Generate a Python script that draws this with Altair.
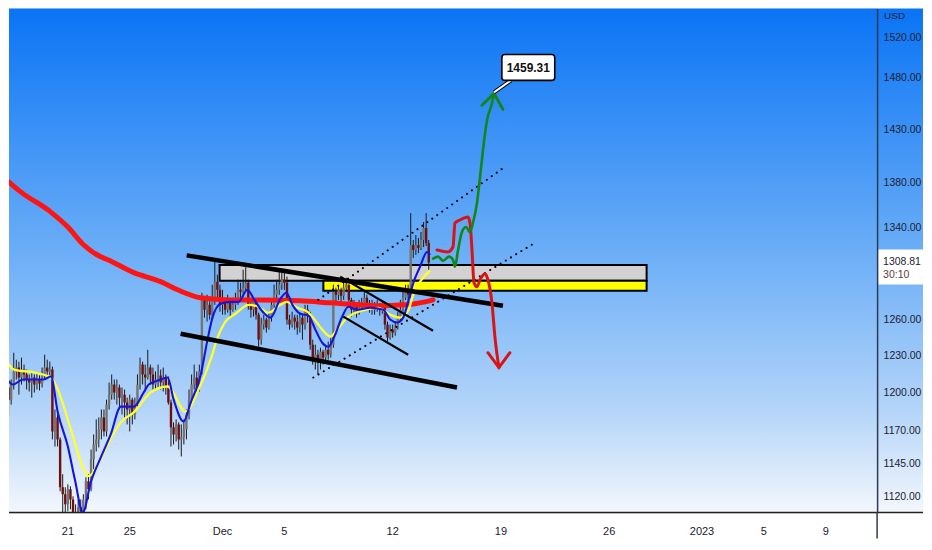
import altair as alt
import pandas as pd

# ---------------- data ----------------
BASE = pd.Timestamp("2022-11-21 00:00")
CANDLE_START = "2022-11-16 16:00"   # 4h candles
FIRST_OPEN = 1218.8

CLOSE = [1212.3, 1217.2, 1204.3, 1194.6, 1206.7, 1217.2, 1220.4, 1212.3, 1218.8, 1214.8,
         1210.7, 1208.3, 1212.3, 1206.7, 1210.7, 1207.5, 1213.2, 1220.4, 1217.2, 1218.8,
         1169.6, 1180.6, 1163.4, 1127.0, 1121.7, 1114.2, 1125.4, 1117.9, 1106.9, 1103.9,
         1112.0, 1109.1, 1117.9, 1131.5, 1125.4, 1148.1, 1159.5, 1163.4, 1171.2, 1180.6,
         1169.6, 1190.7, 1198.6, 1206.7, 1200.3, 1204.3, 1196.2, 1198.6, 1192.3, 1186.8,
         1194.6, 1182.9, 1190.7, 1206.7, 1222.8, 1214.8, 1212.3, 1220.4, 1214.8, 1206.7,
         1210.7, 1214.0, 1208.3, 1212.3, 1204.3, 1192.3, 1172.8, 1167.3, 1175.1, 1163.4,
         1165.0, 1171.2, 1182.9, 1194.6, 1206.7, 1212.3, 1204.3, 1217.2, 1276.6, 1268.3,
         1272.4, 1264.1, 1276.6, 1292.2, 1285.2, 1272.4, 1276.6, 1268.3, 1274.1, 1268.3,
         1272.4, 1276.6, 1285.2, 1283.5, 1287.0, 1291.3, 1272.4, 1268.3, 1274.9, 1264.1,
         1243.3, 1255.8, 1260.0, 1253.3, 1261.6, 1272.4, 1281.0, 1285.2, 1289.6, 1293.9,
         1291.3, 1260.0, 1255.8, 1261.6, 1258.3, 1253.3, 1261.6, 1255.8, 1268.3, 1264.1,
         1239.1, 1226.8, 1230.9, 1225.2, 1233.3, 1228.5, 1234.9, 1230.9, 1239.1, 1283.5,
         1281.0, 1285.2, 1280.1, 1287.0, 1289.6, 1276.6, 1268.3, 1272.4, 1266.6, 1269.9,
         1274.1, 1278.4, 1274.1, 1269.9, 1272.4, 1268.3, 1271.6, 1268.3, 1269.9, 1255.8,
         1244.9, 1251.6, 1249.1, 1253.3, 1261.6, 1268.3, 1278.4, 1283.5, 1281.0, 1324.1,
         1319.7, 1324.1, 1321.5, 1328.5, 1339.2, 1325.8, 1308.81]

HIGH = [1222.8, 1225.2, 1218.8, 1210.7, 1210.7, 1232.5, 1226.8, 1225.2, 1228.5, 1222.8,
        1218.8, 1214.8, 1217.2, 1214.8, 1215.6, 1214.0, 1220.4, 1230.9, 1226.8, 1225.2,
        1221.2, 1186.8, 1182.9, 1165.0, 1136.8, 1127.0, 1129.2, 1127.7, 1120.2, 1114.2,
        1117.9, 1117.9, 1121.7, 1134.5, 1136.8, 1155.6, 1167.3, 1179.0, 1180.6, 1186.8,
        1186.8, 1194.6, 1208.3, 1214.8, 1210.7, 1210.7, 1206.7, 1204.3, 1202.7, 1196.2,
        1198.6, 1196.2, 1196.2, 1214.8, 1228.5, 1225.2, 1222.8, 1234.9, 1222.8, 1220.4,
        1217.2, 1222.8, 1218.8, 1220.4, 1214.8, 1213.2, 1194.6, 1176.7, 1179.0, 1176.7,
        1175.1, 1179.0, 1186.8, 1202.7, 1214.8, 1222.8, 1217.2, 1222.8, 1282.7, 1278.4,
        1281.0, 1276.6, 1289.6, 1309.4, 1298.2, 1289.6, 1285.2, 1278.4, 1281.0, 1276.6,
        1278.4, 1282.7, 1293.9, 1291.3, 1302.5, 1305.1, 1293.9, 1276.6, 1278.4, 1276.6,
        1265.8, 1261.6, 1264.1, 1261.6, 1266.6, 1276.6, 1289.6, 1293.9, 1300.8, 1300.8,
        1299.9, 1296.5, 1264.1, 1266.6, 1264.1, 1264.1, 1265.8, 1264.1, 1272.4, 1272.4,
        1266.6, 1243.3, 1239.1, 1234.9, 1236.6, 1234.9, 1239.1, 1241.6, 1244.9, 1289.6,
        1287.0, 1289.6, 1287.0, 1291.3, 1295.6, 1289.6, 1278.4, 1276.6, 1274.1, 1276.6,
        1278.4, 1283.5, 1281.0, 1276.6, 1276.6, 1274.9, 1276.6, 1274.1, 1274.9, 1272.4,
        1258.3, 1255.8, 1255.8, 1258.3, 1266.6, 1276.6, 1285.2, 1289.6, 1289.6, 1352.5,
        1328.5, 1332.9, 1330.3, 1335.6, 1344.5, 1352.5, 1328.5]

LOW = [1206.7, 1209.1, 1196.2, 1181.3, 1190.7, 1202.7, 1210.7, 1198.6, 1206.7, 1209.1,
       1202.7, 1201.1, 1196.2, 1200.3, 1202.7, 1201.9, 1204.3, 1210.7, 1212.3, 1214.0,
       1163.4, 1157.9, 1157.9, 1123.9, 1095.0, 1106.9, 1109.1, 1110.5, 1090.0, 1078.0,
       1099.5, 1101.7, 1106.9, 1110.5, 1117.9, 1123.9, 1140.5, 1154.1, 1157.2, 1163.4,
       1165.7, 1165.7, 1186.8, 1194.6, 1194.6, 1190.7, 1186.8, 1182.9, 1180.6, 1175.1,
       1169.6, 1175.1, 1179.0, 1188.4, 1202.7, 1206.7, 1202.7, 1210.7, 1206.7, 1202.7,
       1202.7, 1204.3, 1202.7, 1201.1, 1198.6, 1190.7, 1157.9, 1159.5, 1161.8, 1155.6,
       1150.3, 1159.5, 1163.4, 1179.0, 1192.3, 1202.7, 1198.6, 1201.1, 1214.8, 1261.6,
       1258.3, 1260.0, 1261.6, 1272.4, 1278.4, 1266.6, 1264.1, 1264.1, 1265.8, 1261.6,
       1266.6, 1268.3, 1272.4, 1276.6, 1279.2, 1283.5, 1268.3, 1261.6, 1262.5, 1260.0,
       1237.4, 1239.1, 1251.6, 1249.1, 1251.6, 1258.3, 1269.9, 1276.6, 1281.0, 1285.2,
       1285.2, 1255.8, 1251.6, 1253.3, 1251.6, 1247.4, 1249.1, 1243.3, 1251.6, 1257.5,
       1234.9, 1222.8, 1218.8, 1214.8, 1218.8, 1222.8, 1225.2, 1226.8, 1228.5, 1236.6,
       1272.4, 1276.6, 1274.9, 1276.6, 1283.5, 1272.4, 1262.5, 1264.1, 1261.6, 1264.1,
       1266.6, 1272.4, 1268.3, 1265.8, 1264.1, 1264.1, 1266.6, 1263.3, 1264.9, 1251.6,
       1241.6, 1243.3, 1244.9, 1246.6, 1251.6, 1258.3, 1266.6, 1276.6, 1276.6, 1278.4,
       1312.8, 1315.4, 1317.1, 1319.7, 1322.3, 1323.2, 1302.5]

# indicator lines: day offsets from 2022-11-21 and prices
BLUE_D = [-4.26, -3.55, -2.90, -1.55, -1.10, -0.65, 0.0, 0.45, 0.97, 1.48, 2.13, 2.77, 3.42, 4.26,
          4.90, 5.23, 6.0, 6.45, 6.84, 7.48, 7.94, 8.58, 9.03, 9.35, 9.87, 10.52, 11.03, 11.61,
          12.06, 12.65, 13.10, 13.74, 14.13, 14.52, 15.03, 15.55, 16.0, 16.45, 16.84, 17.23,
          17.74, 18.13, 18.71, 19.55, 20.39, 20.84, 21.29, 21.68, 22.0, 22.32, 22.77, 23.23, 23.42]
BLUE_P = [1218.8, 1206.7, 1210.7, 1210.7, 1213.2, 1184.5, 1157.9, 1132.9, 1108.3, 1130.7, 1149.6,
          1167.3, 1189.1, 1189.1, 1200.3, 1206.7, 1210.7, 1212.3, 1194.6, 1177.4, 1192.3, 1214.0,
          1243.3, 1261.6, 1273.3, 1274.9, 1274.9, 1285.2, 1276.6, 1265.8, 1261.6, 1277.5, 1282.7,
          1272.4, 1264.9, 1263.3, 1251.6, 1240.7, 1237.4, 1245.8, 1262.5, 1270.8, 1268.3, 1269.9,
          1268.3, 1260.0, 1257.5, 1261.6, 1274.9, 1290.5, 1305.1, 1318.0, 1315.4]

YELLOW_D = [-4.26, -3.48, -2.19, -1.10, -0.65, 0.19, 1.03, 1.35, 2.0, 2.65, 3.42, 4.26, 5.35,
            6.45, 7.61, 8.45, 9.23, 9.68, 10.19, 10.84, 11.68, 12.32, 12.97, 13.74, 14.13,
            14.84, 15.48, 16.0, 16.45, 16.97, 17.42, 18.06, 19.03, 20.06, 20.84, 21.48, 22.0,
            22.39, 22.97, 23.42]
YELLOW_P = [1233.3, 1218.8, 1216.4, 1212.3, 1202.7, 1171.2, 1140.5, 1135.3, 1145.8, 1161.1,
            1176.7, 1184.5, 1200.3, 1205.1, 1185.2, 1202.7, 1226.8, 1244.9, 1258.3, 1264.9,
            1272.4, 1270.8, 1265.8, 1272.4, 1274.9, 1269.9, 1266.6, 1259.2, 1251.6, 1245.8,
            1251.6, 1261.6, 1267.5, 1269.9, 1264.1, 1261.6, 1267.5, 1283.5, 1295.6, 1301.7]

RED_D = [-4.32, -3.03, -1.10, 0.0, 1.03, 2.13, 2.58, 4.26, 6.0, 7.10, 8.58, 10.52, 12.45,
         15.03, 16.97, 18.90, 20.19, 21.68, 22.45, 23.10, 23.61]
RED_P = [1387.1, 1371.5, 1353.4, 1340.0, 1324.1, 1313.7, 1311.2, 1300.0, 1292.2, 1285.2,
         1278.4, 1276.6, 1276.6, 1275.8, 1274.1, 1272.4, 1271.6, 1272.4, 1273.3, 1274.9, 1276.6]

# drawings (day offsets, prices)
BOX_GRAY_D = [9.81, 37.42]
BOX_GRAY_P = [1306.7, 1293.0]
BOX_YEL_D = [16.52, 37.42]
BOX_YEL_P = [1293.0, 1284.4]

THICK_UP_D = [7.68, 28.13]
THICK_UP_P = [1315.0, 1271.6]
THICK_LO_D = [7.29, 25.16]
THICK_LO_P = [1248.2, 1204.3]
THIN_A_D = [17.61, 23.61]
THIN_A_P = [1296.5, 1250.7]
THIN_B_D = [17.81, 22.0]
THIN_B_P = [1262.5, 1230.9]
DOT_UP_D = [16.19, 28.13]
DOT_UP_P = [1276.6, 1393.5]
DOT_LO_D = [15.87, 30.06]
DOT_LO_P = [1212.3, 1324.9]

RPATH_D = [23.87, 24.58, 24.90, 25.03, 25.35, 25.87, 26.0, 26.13, 26.26, 26.45, 26.65,
           26.97, 27.16, 27.42, 27.61, 27.87]
RPATH_P = [1319.7, 1318.0, 1322.3, 1343.6, 1346.3, 1349.0, 1343.6, 1319.7, 1291.3, 1287.8,
           1293.9, 1299.1, 1293.9, 1274.1, 1245.8, 1220.4]
RHEAD_D = [27.16, 27.87, 28.58]
RHEAD_P = [1232.5, 1220.4, 1232.5]

GPATH_D = [23.61, 23.94, 24.26, 24.65, 24.90, 25.03, 25.23, 25.48, 25.74, 26.0, 26.19,
           26.45, 26.65, 26.84, 27.10, 27.42, 27.55]
GPATH_P = [1312.2, 1313.9, 1310.3, 1313.9, 1311.2, 1305.1, 1319.7, 1335.6, 1340.0, 1335.6,
           1343.6, 1361.3, 1385.2, 1410.3, 1438.7, 1455.0, 1464.7]
GHEAD_D = [26.77, 27.55, 28.13]
GHEAD_P = [1453.1, 1464.7, 1449.2]

TARGET_LABEL = "1459.31"
TARGET_BOX_D = [28.06, 31.48]
TARGET_BOX_P = [1503.1, 1477.4]
TARGET_TEXT_D = 29.77
TARGET_TEXT_P = 1490.0
POINTER_D = [27.55, 28.65]
POINTER_P = [1465.7, 1477.4]

LAST_PRICE = 1308.81
COUNTDOWN = "30:10"
YTICKS = [1120, 1145, 1170, 1200, 1230, 1260, 1340, 1380, 1430, 1480, 1520]
XTICK_DATES = ["2022-11-21", "2022-11-25", "2022-12-01", "2022-12-05", "2022-12-12",
               "2022-12-19", "2022-12-26", "2023-01-01", "2023-01-05", "2023-01-09"]
XTICK_LABELS = ["21", "25", "Dec", "5", "12", "19", "26", "2023", "5", "9"]

# ---------------- layout ----------------
W = 870
H = 505
RW = 46          # width of the price-axis strip
FONT = "Liberation Sans"
TXT = "#1c2030"
AXIS_C = "#2d3b52"


def tcol(days):
    return [BASE + pd.Timedelta(days=float(d)) for d in days]


xs = alt.Scale(domain=[alt.DateTime(year=2022, month=11, date=17, hours=4, minutes=38, seconds=43),
                       alt.DateTime(year=2023, month=1, date=12, hours=7, minutes=45)])
ys = alt.Scale(type="log", domain=[1108.2, 1549.7], nice=False, zero=False)

yaxis = alt.Axis(orient="right", values=YTICKS, format=".2f", ticks=False, grid=False, domain=True,
                 domainColor=AXIS_C, domainWidth=1.5, labelPadding=6, labelFontSize=10.5,
                 labelFont=FONT, labelColor=TXT, labelOverlap=False, zindex=1, title=None)


def X(f):
    return alt.X(f, type="temporal", scale=xs, axis=None, title=None)


def Y(f):
    return alt.Y(f, type="quantitative", scale=ys, axis=yaxis, title=None)


one = pd.DataFrame({"a": [0]})

times = pd.date_range(CANDLE_START, periods=len(CLOSE), freq="4h")
opens = [FIRST_OPEN] + CLOSE[:-1]
cdf = pd.DataFrame({"t": times, "open": opens, "close": CLOSE, "high": HIGH, "low": LOW})
cdf["dir"] = ["up" if c >= o else "down" for o, c in zip(opens, CLOSE)]


def line_df(d, p, seg="s"):
    return pd.DataFrame({"t": tcol(d), "p": p, "seg": seg})


bg = alt.Chart(one).mark_rect(color={
    "gradient": "linear", "x1": 0, "x2": 0, "y1": 0, "y2": 1,
    "stops": [{"offset": 0, "color": "#0a74f5"}, {"offset": 0.5, "color": "#6fb0f7"},
              {"offset": 0.8, "color": "#b5d5f9"}, {"offset": 1, "color": "#f3f7fc"}]}
).encode(x=alt.value(0), x2=alt.value(W + RW), y=alt.value(0), y2=alt.value(H))

boxes = pd.DataFrame({
    "t0": tcol([BOX_GRAY_D[0], BOX_YEL_D[0]]), "t1": tcol([BOX_GRAY_D[1], BOX_YEL_D[1]]),
    "p0": [BOX_GRAY_P[0], BOX_YEL_P[0]], "p1": [BOX_GRAY_P[1], BOX_YEL_P[1]],
    "kind": ["gray", "yellow"]})
box_layer = alt.Chart(boxes).mark_rect(stroke="#000000", strokeWidth=2, clip=True).encode(
    x=X("t0"), x2="t1", y=Y("p0"), y2="p1",
    fill=alt.Fill("kind:N", scale=alt.Scale(domain=["gray", "yellow"], range=["#d2d2d2", "#ffff00"]), legend=None))

wick = alt.Chart(cdf).mark_rule(color="#1a1a1a", strokeWidth=1, clip=True).encode(
    x=X("t"), y=Y("low"), y2="high")
body = alt.Chart(cdf).mark_rule(strokeWidth=2.4, clip=True).encode(
    x=X("t"), y=Y("open"), y2="close",
    color=alt.Color("dir:N", scale=alt.Scale(domain=["up", "down"], range=["#747474", "#6e0f0f"]), legend=None))

red_ma = alt.Chart(line_df(RED_D, RED_P)).mark_line(color="#ff1414", strokeWidth=5, strokeCap="round",
                                                     interpolate="monotone", clip=True).encode(x=X("t"), y=Y("p"))
yel = alt.Chart(line_df(YELLOW_D, YELLOW_P)).mark_line(color="#ffff2e", strokeWidth=2.3, interpolate="monotone",
                                                        clip=True).encode(x=X("t"), y=Y("p"))
blue = alt.Chart(line_df(BLUE_D, BLUE_P)).mark_line(color="#1414e0", strokeWidth=2.1, interpolate="monotone",
                                                     clip=True).encode(x=X("t"), y=Y("p"))

thick = pd.concat([line_df(THICK_UP_D, THICK_UP_P, "u"), line_df(THICK_LO_D, THICK_LO_P, "l")])
thick_layer = alt.Chart(thick).mark_line(color="#000000", strokeWidth=4.5, clip=True).encode(
    x=X("t"), y=Y("p"), detail="seg:N")
thin = pd.concat([line_df(THIN_A_D, THIN_A_P, "a"), line_df(THIN_B_D, THIN_B_P, "b")])
thin_layer = alt.Chart(thin).mark_line(color="#000000", strokeWidth=2.2, clip=True).encode(
    x=X("t"), y=Y("p"), detail="seg:N")
dots = pd.concat([line_df(DOT_UP_D, DOT_UP_P, "u"), line_df(DOT_LO_D, DOT_LO_P, "l")])
dot_layer = alt.Chart(dots).mark_line(color="#000000", strokeWidth=2, strokeDash=[0.1, 6], strokeCap="round",
                                      clip=True).encode(x=X("t"), y=Y("p"), detail="seg:N")

rpath = alt.Chart(line_df(RPATH_D, RPATH_P)).mark_line(color="#d81414", strokeWidth=3, interpolate="monotone",
                                                        strokeCap="round").encode(x=X("t"), y=Y("p"))
rhead = alt.Chart(line_df(RHEAD_D, RHEAD_P)).mark_line(color="#d81414", strokeWidth=3, strokeCap="round",
                                                        strokeJoin="miter").encode(x=X("t"), y=Y("p"))
gpath = alt.Chart(line_df(GPATH_D, GPATH_P)).mark_line(color="#13861a", strokeWidth=2.6, interpolate="monotone",
                                                        strokeCap="round").encode(x=X("t"), y=Y("p"))
ghead = alt.Chart(line_df(GHEAD_D, GHEAD_P)).mark_line(color="#13861a", strokeWidth=3, strokeCap="round",
                                                        strokeJoin="miter").encode(x=X("t"), y=Y("p"))

ptr = line_df(POINTER_D, POINTER_P)
ptr_out = alt.Chart(ptr).mark_line(color="#000000", strokeWidth=4).encode(x=X("t"), y=Y("p"))
ptr_in = alt.Chart(ptr).mark_line(color="#ffffff", strokeWidth=2).encode(x=X("t"), y=Y("p"))
tbox = pd.DataFrame({"t0": tcol([TARGET_BOX_D[0]]), "t1": tcol([TARGET_BOX_D[1]]),
                     "p0": [TARGET_BOX_P[0]], "p1": [TARGET_BOX_P[1]]})
tbox_layer = alt.Chart(tbox).mark_rect(fill="#ffffff", stroke="#000000", strokeWidth=1.6, cornerRadius=3).encode(
    x=X("t0"), x2="t1", y=Y("p0"), y2="p1")
ttext = pd.DataFrame({"t": tcol([TARGET_TEXT_D]), "p": [TARGET_TEXT_P], "s": [TARGET_LABEL]})
ttext_layer = alt.Chart(ttext).mark_text(font=FONT, fontSize=12, fontWeight="bold", color="#111111",
                                         baseline="middle").encode(x=X("t"), y=Y("p"), text="s:N")

# x axis line, right axis extension, labels
xline = alt.Chart(one).mark_rule(color="#222222", strokeWidth=1.5).encode(
    x=alt.value(0), x2=alt.value(W + RW), y=alt.value(H))
rext = alt.Chart(one).mark_rule(color=AXIS_C, strokeWidth=1.5).encode(
    x=alt.value(W), y=alt.value(H), y2=alt.value(H + 26))
xlab = pd.DataFrame({"t": pd.to_datetime(XTICK_DATES), "s": XTICK_LABELS})
xlab_layer = alt.Chart(xlab).mark_text(font=FONT, fontSize=11, color=TXT, baseline="middle").encode(
    x=X("t"), y=alt.value(H + 20), text="s:N")
usd = alt.Chart(pd.DataFrame({"s": ["USD"]})).mark_text(font=FONT, fontSize=10, color=TXT, align="left",
                                                         baseline="middle").encode(
    x=alt.value(W + 7), y=alt.value(7), text="s:N")

pl = pd.DataFrame({"p": [LAST_PRICE], "s1": [f"{LAST_PRICE:.2f}"], "s2": [COUNTDOWN]})
pl_box = alt.Chart(pl).mark_rect(fill="#ffffff", yOffset=-13, y2Offset=22).encode(
    x=alt.value(W + 1), x2=alt.value(W + RW), y=Y("p"), y2="p")
pl_t1 = alt.Chart(pl).mark_text(font=FONT, fontSize=10.5, color=TXT, align="left", baseline="middle",
                                dy=0).encode(x=alt.value(W + 6), y=Y("p"), text="s1:N")
pl_t2 = alt.Chart(pl).mark_text(font=FONT, fontSize=10.5, color="#5a3c3c", align="left", baseline="middle",
                                dy=13).encode(x=alt.value(W + 6), y=Y("p"), text="s2:N")

chart = alt.layer(
    bg, box_layer, wick, body, red_ma, yel, blue, thick_layer, thin_layer, dot_layer,
    rpath, rhead, gpath, ghead, ptr_out, ptr_in, tbox_layer, ttext_layer,
    xline, rext, xlab_layer, usd, pl_box, pl_t1, pl_t2
).properties(
    width=W, height=H, padding={"left": 0, "top": 0, "right": 0, "bottom": 0}
).configure_view(stroke="transparent").configure(font=FONT)

chart.save("out.html", embed_options={"renderer": "svg", "actions": False})
